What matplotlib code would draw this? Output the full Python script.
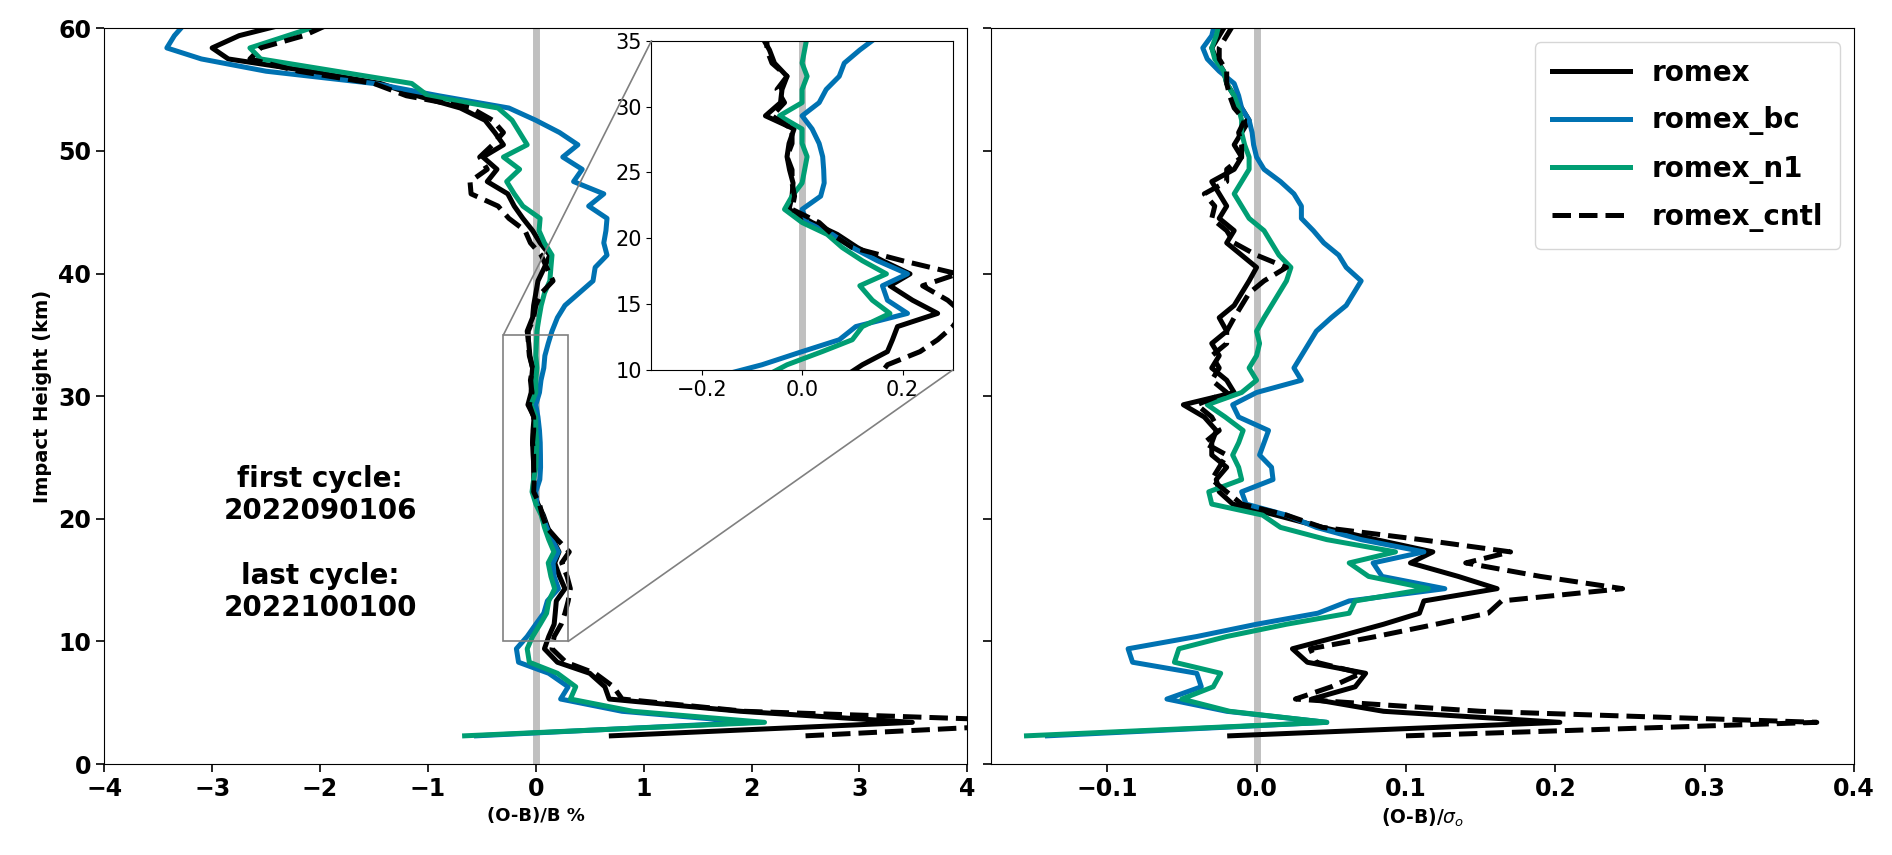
import matplotlib
matplotlib.use("Agg")
import matplotlib.pyplot as plt
from matplotlib.patches import ConnectionPatch

plt.rcParams['font.family'] = ['DejaVu Sans']

# impact heights (km), shared by every profile
height = [2.3, 3.4, 4.3, 5.3, 6.3, 7.4, 8.3, 9.4, 10.4, 11.4, 12.3, 13.3, 14.3, 15.3,
          16.4, 17.3, 18.3, 19.3, 20.3, 21.2, 22.2, 23.2, 24.2, 25.2, 26.2, 27.2, 28.3,
          29.3, 30.3, 31.3, 32.3, 33.3, 34.3, 35.3, 36.4, 37.4, 38.4, 39.4, 40.5, 41.5,
          42.5, 43.5, 44.5, 45.5, 46.5, 47.5, 48.5, 49.5, 50.5, 51.5, 52.5, 53.5, 54.5,
          55.5, 56.5, 57.5, 58.4, 59.4, 60.4]

# (O-B)/B %
omb_romex = [0.70, 3.49, 1.9, 0.68, 0.64, 0.5, 0.2, 0.08, 0.12, 0.17, 0.18, 0.19, 0.27, 0.22,
             0.175, 0.215, 0.16, 0.11, 0.07, 0.02, -0.026, -0.02, -0.018, -0.025, -0.03, -0.026, -0.016,
             -0.073, -0.043, -0.04, -0.03, -0.055, -0.065, -0.08, -0.03, -0.02, 0.0, 0.02, 0.08, 0.13,
             0.04, -0.03, -0.12, -0.2, -0.26, -0.45, -0.36, -0.49, -0.3, -0.38, -0.47, -0.7, -1.1,
             -1.44, -2.1, -2.85, -3.0, -2.75, -2.3]
omb_bc = [-0.55, 2.0, 0.8, 0.23, 0.3, 0.12, -0.16, -0.18, -0.08, 0.0, 0.074, 0.107, 0.21, 0.17,
          0.16, 0.21, 0.15, 0.1, 0.06, 0.01, 0.0, 0.037, 0.044, 0.043, 0.041, 0.034, 0.02,
          0.0, 0.034, 0.048, 0.074, 0.084, 0.115, 0.15, 0.2, 0.27, 0.4, 0.53, 0.55, 0.66,
          0.63, 0.65, 0.66, 0.49, 0.63, 0.35, 0.43, 0.25, 0.39, 0.22, 0.0, -0.25, -0.9,
          -1.5, -2.5, -3.1, -3.42, -3.35, -3.25]
omb_n1 = [-0.66, 2.12, 0.9, 0.32, 0.37, 0.2, -0.06, -0.08, -0.03, 0.04, 0.1, 0.12, 0.175, 0.14,
          0.115, 0.168, 0.12, 0.08, 0.05, 0.0, -0.035, -0.02, 0.0, 0.005, 0.01, 0.0, 0.0,
          -0.045, 0.0, 0.0, 0.01, 0.0, 0.005, 0.01, 0.03, 0.05, 0.08, 0.13, 0.14, 0.15,
          0.08, 0.03, 0.04, -0.12, -0.2, -0.27, -0.15, -0.3, -0.08, -0.15, -0.22, -0.35, -1.0,
          -1.15, -1.85, -2.55, -2.65, -2.3, -1.95]
omb_cntl = [2.5, 5.0, 1.94, 0.8, 0.72, 0.55, 0.28, 0.15, 0.17, 0.235, 0.27, 0.3, 0.32, 0.29,
            0.24, 0.31, 0.2, 0.1, 0.06, 0.034, -0.02, -0.015, -0.02, -0.02, -0.03, -0.02, -0.02,
            -0.06, -0.035, -0.05, -0.03, -0.06, -0.07, -0.07, -0.02, 0.0, 0.05, 0.16, 0.1, 0.05,
            -0.05, -0.1, -0.25, -0.35, -0.6, -0.61, -0.45, -0.52, -0.4, -0.3, -0.4, -0.6, -1.2,
            -1.5, -2.2, -2.65, -2.55, -2.15, -1.9]

# (O-B)/sigma_o
norm_romex = [-0.018, 0.203, 0.085, 0.037, 0.066, 0.073, 0.034, 0.024, 0.055, 0.085, 0.109, 0.112, 0.161, 0.135,
              0.103, 0.118, 0.08, 0.044, 0.013, -0.016, -0.025, -0.027, -0.02, -0.03, -0.03, -0.027, -0.035,
              -0.049, -0.015, -0.02, -0.03, -0.025, -0.03, -0.02, -0.025, -0.015, -0.01, -0.005, 0.0, -0.01,
              -0.02, -0.015, -0.025, -0.02, -0.025, -0.03, -0.015, -0.01, -0.015, -0.01, -0.005, -0.01, -0.015,
              -0.02, -0.022, -0.027, -0.03, -0.025, -0.02]
norm_bc = [-0.14, 0.047, -0.02, -0.06, -0.037, -0.04, -0.083, -0.086, -0.04, 0.0, 0.041, 0.062, 0.126, 0.084,
           0.078, 0.112, 0.07, 0.04, 0.02, -0.007, -0.01, 0.011, 0.01, 0.002, 0.005, 0.008, -0.012,
           -0.016, 0.0, 0.03, 0.025, 0.03, 0.035, 0.04, 0.05, 0.06, 0.065, 0.07, 0.06, 0.055,
           0.045, 0.038, 0.03, 0.03, 0.025, 0.016, 0.005, 0.0, -0.002, -0.003, -0.005, -0.01, -0.012,
           -0.015, -0.025, -0.033, -0.036, -0.03, -0.028]
norm_n1 = [-0.154, 0.047, -0.018, -0.05, -0.029, -0.024, -0.055, -0.052, -0.02, 0.02, 0.062, 0.066, 0.115, 0.075,
           0.062, 0.093, 0.047, 0.016, 0.004, -0.03, -0.032, -0.01, -0.012, -0.016, -0.012, -0.009, -0.021,
           -0.033, -0.01, 0.0, -0.005, 0.0, 0.002, 0.0, 0.005, 0.01, 0.015, 0.02, 0.023, 0.015,
           0.01, 0.005, -0.005, -0.01, -0.015, -0.01, -0.005, -0.005, -0.008, -0.01, -0.01, -0.012, -0.015,
           -0.02, -0.022, -0.028, -0.03, -0.027, -0.025]
norm_cntl = [0.10, 0.375, 0.15, 0.026, 0.05, 0.07, 0.04, 0.036, 0.08, 0.12, 0.155, 0.164, 0.245, 0.19,
             0.14, 0.17, 0.11, 0.044, 0.02, -0.01, -0.02, -0.03, -0.025, -0.02, -0.035, -0.025, -0.03,
             -0.04, -0.02, -0.03, -0.025, -0.03, -0.02, -0.02, -0.015, -0.01, -0.005, 0.005, 0.02, 0.0,
             -0.015, -0.02, -0.03, -0.028, -0.035, -0.02, -0.02, -0.01, -0.01, -0.012, -0.008, -0.015, -0.018,
             -0.02, -0.02, -0.025, -0.025, -0.02, -0.015]

labels = ["romex", "romex_bc", "romex_n1", "romex_cntl"]
colors = ["black", "#0072B2", "#009E73", "black"]
styles = ["-", "-", "-", "--"]
lw = 3.6

fig = plt.figure(figsize=(18.92, 8.55), dpi=100)
ax1 = fig.add_axes([0.0551, 0.1064, 0.4562, 0.8605])
ax2 = fig.add_axes([0.5236, 0.1064, 0.4564, 0.8605], sharey=ax1)

left_data = [omb_romex, omb_bc, omb_n1, omb_cntl]
right_data = [norm_romex, norm_bc, norm_n1, norm_cntl]

for ax in (ax1, ax2):
    ax.axvline(0, color="silver", lw=5, zorder=1)

for xs, c, s, lab in zip(left_data, colors, styles, labels):
    ax1.plot(xs, height, color=c, ls=s, lw=lw, label=lab, zorder=2)
for xs, c, s, lab in zip(right_data, colors, styles, labels):
    ax2.plot(xs, height, color=c, ls=s, lw=lw, label=lab, zorder=2)

ax1.set_xlim(-4, 4)
ax1.set_ylim(0, 60)
ax2.set_xlim(-0.178, 0.4)

for ax in (ax1, ax2):
    ax.tick_params(labelsize=17, length=6, width=1.2)
    for t in ax.get_xticklabels() + ax.get_yticklabels():
        t.set_fontweight("bold")
plt.setp(ax2.get_yticklabels(), visible=False)

ax1.set_ylabel("Impact Height (km)", fontsize=14, fontweight="bold")
ax1.set_xlabel("(O-B)/B %", fontsize=13, fontweight="bold")
ax2.set_xlabel(r"(O-B)/$\sigma_o$", fontsize=13.5, fontweight="bold")

ax1.text(-2.0, 18.0, "first cycle:\n2022090106\n\nlast cycle:\n2022100100",
         ha="center", va="center", fontsize=20, fontweight="bold")

# zoomed inset on the left panel
axins = ax1.inset_axes([0.634, 0.5355, 0.349, 0.4476])
axins.axvline(0, color="silver", lw=5, zorder=1)
for xs, c, s in zip(left_data, colors, styles):
    axins.plot(xs, height, color=c, ls=s, lw=lw, zorder=2)
axins.set_xlim(-0.3, 0.3)
axins.set_ylim(10, 35)
axins.set_xticks([-0.2, 0.0, 0.2])
axins.set_yticks([10, 15, 20, 25, 30, 35])
axins.tick_params(labelsize=15)

x0, x1 = axins.get_xlim()
y0, y1 = axins.get_ylim()
ax1.indicate_inset([x0, y0, x1 - x0, y1 - y0], edgecolor="gray", alpha=1, lw=1.2)
for corner, target in [((0, 1), (x0, y1)), ((1, 0), (x1, y0))]:
    con = ConnectionPatch(xyA=corner, coordsA=axins.transAxes,
                          xyB=target, coordsB=ax1.transData,
                          color="gray", lw=1.2)
    fig.add_artist(con)

leg = ax2.legend(loc="upper right", fontsize=20, handlelength=2.8,
                 borderpad=0.6, labelspacing=0.7)
for t in leg.get_texts():
    t.set_fontweight("bold")

fig.savefig("out.png", dpi=100)
